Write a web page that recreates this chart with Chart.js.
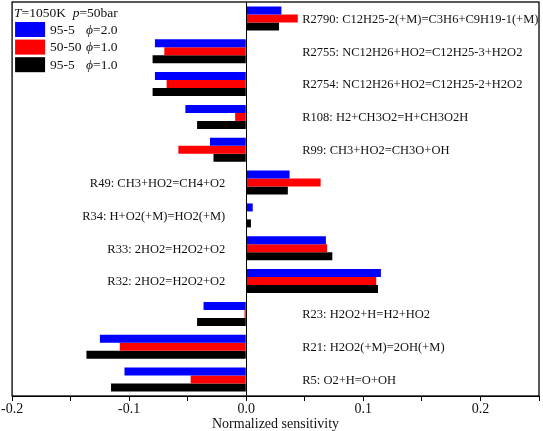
<!DOCTYPE html>
<html>
<head>
<meta charset="utf-8">
<script src="https://cdn.jsdelivr.net/npm/chart.js@4/dist/chart.umd.min.js"></script>
<style>
  html, body { margin: 0; padding: 0; background: #fff; }
  #wrap { width: 543px; height: 431px; }
</style>
</head>
<body>
<div id="wrap"><canvas id="sensChart"></canvas></div>
<script>
// reaction labels, top to bottom
const reactions = [
  'R2790: C12H25-2(+M)=C3H6+C9H19-1(+M)',
  'R2755: NC12H26+HO2=C12H25-3+H2O2',
  'R2754: NC12H26+HO2=C12H25-2+H2O2',
  'R108: H2+CH3O2=H+CH3O2H',
  'R99: CH3+HO2=CH3O+OH',
  'R49: CH3+HO2=CH4+O2',
  'R34: H+O2(+M)=HO2(+M)',
  'R33: 2HO2=H2O2+O2',
  'R32: 2HO2=H2O2+O2',
  'R23: H2O2+H=H2+HO2',
  'R21: H2O2(+M)=2OH(+M)',
  'R5: O2+H=O+OH'
];

// normalized sensitivity per case
const sens95_5_phi2 = [0.030, -0.078, -0.078, -0.052, -0.031, 0.037, 0.0055, 0.068, 0.115, -0.0365, -0.125, -0.104];
const sens50_50_phi1 = [0.044, -0.070, -0.068, -0.0095, -0.058, 0.0635, 0, 0.069, 0.111, -0.0015, -0.108, -0.0475];
const sens95_5_phi1 = [0.028, -0.080, -0.080, -0.042, -0.028, 0.0355, 0.004, 0.0735, 0.1125, -0.042, -0.1365, -0.1155];

const mixNames = ['95-5', '50-50', '95-5'];
const phiValues = ['2.0', '1.0', '1.0'];
const xTickLabels = [-0.2, -0.1, 0.0, 0.1, 0.2];

const FONT = "'Liberation Serif', 'Times New Roman', serif";
const colors = ['#0000ff', '#ff0000', '#000000'];

// which side of the zero line each reaction label goes
const labelOnLeft = [false, false, false, false, false, true, true, true, true, false, false, false];

const annotate = {
  id: 'annotate',
  afterDatasetsDraw(chart) {
    const { ctx, chartArea: a, scales } = chart;
    const x = scales.x, y = scales.y;
    const x0 = x.getPixelForValue(0);
    ctx.save();

    // zero line
    ctx.strokeStyle = '#000';
    ctx.lineWidth = 1;
    ctx.beginPath();
    ctx.moveTo(Math.round(x0) + 0.5, a.top);
    ctx.lineTo(Math.round(x0) + 0.5, a.bottom);
    ctx.stroke();

    // frame
    ctx.lineWidth = 1.3;
    ctx.strokeRect(a.left, a.top, a.right - a.left, a.bottom - a.top);

    // reaction labels
    ctx.fillStyle = '#111';
    ctx.font = '12.5px ' + FONT;
    ctx.textBaseline = 'middle';
    reactions.forEach((txt, i) => {
      const yy = y.getPixelForValue(i) + 1;
      if (labelOnLeft[i]) {
        ctx.textAlign = 'right';
        ctx.fillText(txt, x0 - 21, yy);
      } else {
        ctx.textAlign = 'left';
        ctx.fillText(txt, x0 + 56, yy);
      }
    });

    // legend
    ctx.textAlign = 'left';
    const lx = a.left + 2;
    let tx = lx;
    const parts = [['T', true], ['=1050K  ', false], ['p', true], ['=50bar', false]];
    parts.forEach(([s, it]) => {
      ctx.font = (it ? 'italic ' : '') + '13.5px ' + FONT;
      ctx.fillText(s, tx, 13);
      tx += ctx.measureText(s).width;
    });
    mixNames.forEach((name, i) => {
      const by = 22 + i * 17.6;
      ctx.fillStyle = colors[i];
      ctx.fillRect(lx + 1, by, 30, 15);
      ctx.fillStyle = '#111';
      ctx.font = '13.5px ' + FONT;
      ctx.fillText(name, lx + 36, by + 8);
      ctx.font = 'italic 13.5px ' + FONT;
      ctx.fillText('\u03d5', lx + 72, by + 8);
      const w = ctx.measureText('\u03d5').width;
      ctx.font = '13.5px ' + FONT;
      ctx.fillText('=' + phiValues[i], lx + 72 + w, by + 8);
    });
    ctx.restore();
  }
};

const ctx = document.getElementById('sensChart').getContext('2d');
new Chart(ctx, {
  type: 'bar',
  data: {
    labels: reactions.map(r => r.split(':')[0]),
    datasets: [
      { label: '95-5 phi=2.0', data: sens95_5_phi2, backgroundColor: colors[0] },
      { label: '50-50 phi=1.0', data: sens50_50_phi1, backgroundColor: colors[1] },
      { label: '95-5 phi=1.0', data: sens95_5_phi1, backgroundColor: colors[2] }
    ]
  },
  options: {
    indexAxis: 'y',
    responsive: true,
    maintainAspectRatio: false,
    animation: false,
    layout: { padding: { left: 2, right: 4, top: 2, bottom: 0 } },
    datasets: { bar: { categoryPercentage: 0.73, barPercentage: 1.0 } },
    plugins: { legend: { display: false }, tooltip: { enabled: false } },
    scales: {
      y: { display: false },
      x: {
        min: -0.2,
        max: 0.25,
        ticks: {
          stepSize: 0.05,
          color: '#111',
          font: { family: FONT, size: 14, lineHeight: 1.0 },
          padding: 1,
          maxRotation: 0,
          autoSkip: false,
          callback: (v) => {
            const m = xTickLabels.find(t => Math.abs(t - v) < 1e-6);
            return m === undefined ? '' : m.toFixed(1);
          }
        },
        grid: { drawOnChartArea: false, tickLength: 5, color: '#000' },
        border: { color: '#000', width: 1 },
        title: {
          display: true,
          text: 'Normalized sensitivity',
          color: '#111',
          font: { family: FONT, size: 14, lineHeight: 1.0 },
          padding: { top: 0, bottom: 0 }
        }
      }
    }
  },
  plugins: [annotate]
});
</script>
</body>
</html>
